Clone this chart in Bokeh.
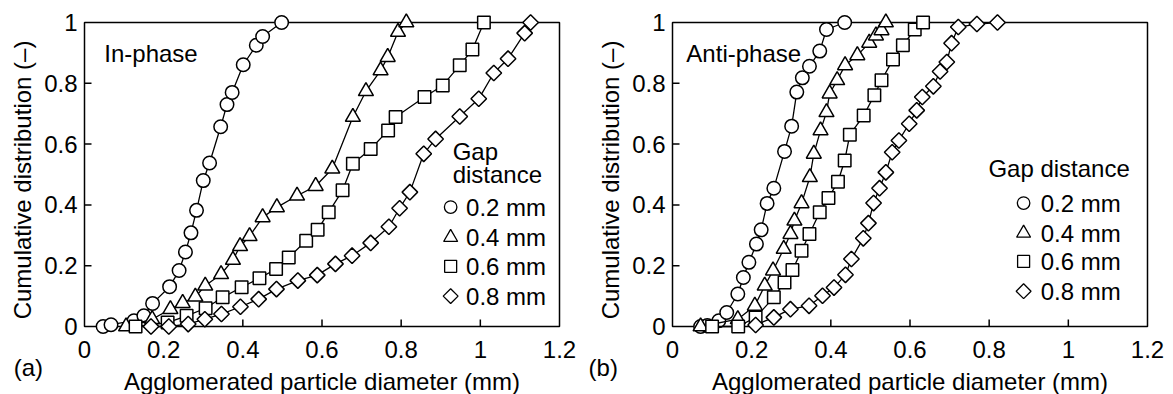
import numpy as np
from bokeh.plotting import figure
from bokeh.layouts import row
from bokeh.models import Range1d, BoxAnnotation, Label, ColumnDataSource
from bokeh.embed import file_html
from bokeh.resources import INLINE
from bokeh.core.properties import value

FONT = "Liberation Sans"

# ---------------- data ----------------
x_ticks = [0, 0.2, 0.4, 0.6, 0.8, 1.0, 1.2]
y_ticks = [0, 0.2, 0.4, 0.6, 0.8, 1.0]
x_tick_labels = ["0", "0.2", "0.4", "0.6", "0.8", "1", "1.2"]
y_tick_labels = ["0", "0.2", "0.4", "0.6", "0.8", "1"]
gap_labels = ["0.2 mm", "0.4 mm", "0.6 mm", "0.8 mm"]

# (a) In-phase
a_02_x = [0.047, 0.067, 0.125, 0.150, 0.172, 0.215, 0.239, 0.255, 0.269, 0.283, 0.300, 0.316, 0.344, 0.360, 0.373, 0.401, 0.434, 0.450, 0.498]
a_02_y = [0.000, 0.006, 0.019, 0.035, 0.076, 0.131, 0.184, 0.245, 0.308, 0.382, 0.480, 0.538, 0.657, 0.730, 0.770, 0.861, 0.925, 0.954, 1.000]
a_04_x = [0.105, 0.171, 0.217, 0.248, 0.280, 0.305, 0.345, 0.375, 0.393, 0.417, 0.450, 0.486, 0.537, 0.584, 0.626, 0.678, 0.711, 0.748, 0.766, 0.792, 0.813]
a_04_y = [0.000, 0.024, 0.057, 0.077, 0.098, 0.134, 0.172, 0.219, 0.264, 0.297, 0.359, 0.392, 0.430, 0.462, 0.519, 0.689, 0.774, 0.842, 0.886, 0.969, 1.000]
a_06_x = [0.129, 0.210, 0.258, 0.306, 0.349, 0.397, 0.442, 0.484, 0.516, 0.560, 0.589, 0.617, 0.652, 0.678, 0.723, 0.767, 0.786, 0.859, 0.905, 0.948, 0.980, 1.009]
a_06_y = [0.000, 0.013, 0.035, 0.060, 0.096, 0.129, 0.159, 0.189, 0.227, 0.282, 0.318, 0.376, 0.448, 0.535, 0.584, 0.645, 0.689, 0.755, 0.793, 0.859, 0.911, 1.000]
a_08_x = [0.168, 0.213, 0.262, 0.304, 0.346, 0.394, 0.440, 0.485, 0.539, 0.588, 0.634, 0.676, 0.723, 0.769, 0.796, 0.822, 0.857, 0.887, 0.948, 0.996, 1.034, 1.070, 1.112, 1.127]
a_08_y = [0.000, 0.000, 0.008, 0.024, 0.041, 0.065, 0.090, 0.123, 0.151, 0.169, 0.206, 0.233, 0.275, 0.328, 0.389, 0.442, 0.568, 0.617, 0.691, 0.749, 0.834, 0.881, 0.965, 1.000]

# (b) Anti-phase
b_02_x = [0.071, 0.088, 0.117, 0.137, 0.165, 0.179, 0.193, 0.212, 0.224, 0.239, 0.256, 0.283, 0.301, 0.314, 0.328, 0.346, 0.372, 0.389, 0.435]
b_02_y = [0.000, 0.003, 0.019, 0.046, 0.107, 0.161, 0.211, 0.271, 0.318, 0.405, 0.455, 0.576, 0.659, 0.771, 0.818, 0.856, 0.906, 0.977, 1.000]
b_04_x = [0.071, 0.165, 0.208, 0.233, 0.254, 0.281, 0.298, 0.308, 0.326, 0.347, 0.357, 0.374, 0.389, 0.397, 0.416, 0.436, 0.467, 0.497, 0.514, 0.528, 0.539]
b_04_y = [0.000, 0.024, 0.068, 0.134, 0.184, 0.255, 0.304, 0.348, 0.405, 0.491, 0.568, 0.645, 0.705, 0.766, 0.810, 0.859, 0.892, 0.933, 0.957, 0.974, 1.000]
b_06_x = [0.100, 0.166, 0.210, 0.256, 0.283, 0.303, 0.326, 0.346, 0.372, 0.394, 0.418, 0.435, 0.448, 0.483, 0.510, 0.528, 0.557, 0.582, 0.612, 0.633]
b_06_y = [0.000, 0.000, 0.030, 0.096, 0.145, 0.186, 0.249, 0.304, 0.376, 0.423, 0.476, 0.546, 0.631, 0.694, 0.761, 0.810, 0.878, 0.925, 0.977, 1.000]
b_08_x = [0.210, 0.256, 0.298, 0.345, 0.379, 0.408, 0.437, 0.452, 0.482, 0.495, 0.508, 0.523, 0.539, 0.555, 0.572, 0.598, 0.617, 0.631, 0.659, 0.676, 0.693, 0.705, 0.722, 0.769, 0.821]
b_08_y = [0.005, 0.030, 0.057, 0.068, 0.101, 0.128, 0.170, 0.222, 0.290, 0.340, 0.406, 0.455, 0.507, 0.573, 0.612, 0.667, 0.711, 0.755, 0.790, 0.839, 0.870, 0.932, 0.985, 0.995, 1.000]

# ---------------- styling ----------------
MARKERS = ["circle", "triangle", "square", "square"]
ANGLES = [0.0, 0.0, 0.0, np.pi / 4]
SIZES = [13.5, 15, 12.5, 11]
LEG_SIZES = [12.5, 14, 12, 10.5]

PX_X = 475 / 1.2   # pixels per x unit
PX_Y = 304.0       # pixels per y unit
TICK = 7
H = 394


def make_panel(series, width, left_px, tag, tag_x, phase, phase_x, legend):
    top_px = 22                       # pixels from canvas top to y = 1
    x_start = -left_px / PX_X
    x_end = x_start + width / PX_X
    y_end = 1 + top_px / PX_Y
    y_start = y_end - H / PX_Y
    p = figure(width=width, height=H,
               x_range=Range1d(x_start, x_end), y_range=Range1d(y_start, y_end),
               x_axis_location=None, y_axis_location=None,
               output_backend="svg", toolbar_location=None,
               min_border=0)
    p.outline_line_color = None
    p.grid.visible = False
    p.background_fill_color = "white"
    p.border_fill_color = "white"

    # plot box
    p.add_layout(BoxAnnotation(left=0, right=1.2, bottom=0, top=1,
                               fill_color=None, fill_alpha=0,
                               line_color="black", line_alpha=1.0, line_width=1.5,
                               level="underlay"))
    # inward ticks
    xt = x_ticks[1:-1]
    yt = y_ticks[1:-1]
    p.segment(x0=xt, y0=[0] * len(xt), x1=xt, y1=[TICK / PX_Y] * len(xt),
              line_color="black", line_width=1.5)
    p.segment(x0=[0] * len(yt), y0=yt, x1=[TICK / PX_X] * len(yt), y1=yt,
              line_color="black", line_width=1.5)

    # tick labels
    p.text(x=x_ticks, y=[-23 / PX_Y] * len(x_ticks), text=x_tick_labels,
           text_font=value(FONT), text_font_size="24px", text_color="black",
           text_align="center", text_baseline="middle")
    p.text(x=[-7 / PX_X] * len(y_ticks), y=y_ticks, text=y_tick_labels,
           text_font=value(FONT), text_font_size="24px", text_color="black",
           text_align="right", text_baseline="middle")

    for (xs, ys), mk, ang, sz in zip(series, MARKERS, ANGLES, SIZES):
        p.line(xs, ys, line_color="black", line_width=1.3)
        p.scatter(xs, ys, marker=mk, angle=ang, size=sz,
                  fill_color="white", line_color="black", line_width=1.5)

    # legend
    lx_m, ly_m, lx_t, titles = legend
    src = ColumnDataSource(dict(x=[lx_m] * 4, y=ly_m, marker=MARKERS,
                                angle=ANGLES, size=LEG_SIZES))
    p.scatter(x="x", y="y", marker="marker", angle="angle", size="size",
              source=src, fill_color="white", line_color="black", line_width=1.3)
    p.text(x=[lx_t] * 4, y=ly_m, text=gap_labels, text_font=value(FONT),
           text_font_size="24px", text_color="black",
           text_align="left", text_baseline="middle")

    def lab(x, y, t, align="left", angle=0.0):
        p.add_layout(Label(x=x, y=y, text=t, angle=angle, text_font=FONT,
                           text_font_size="24px", text_color="black",
                           text_align=align, text_baseline="middle"))

    for tx, ty, tt in titles:
        lab(tx, ty, tt)
    lab(phase_x, 0.897, phase)
    lab(0.6, -0.181, "Agglomerated particle diameter (mm)", align="center")
    lab(-0.1554, 0.482, "Cumulative distribution (\u2013)", align="center", angle=np.pi / 2)
    lab(tag_x, -0.135, tag)
    return p


series_a = [(a_02_x, a_02_y), (a_04_x, a_04_y), (a_06_x, a_06_y), (a_08_x, a_08_y)]
series_b = [(b_02_x, b_02_y), (b_04_x, b_04_y), (b_06_x, b_06_y), (b_08_x, b_08_y)]

legend_a = (0.925, [0.393, 0.293, 0.198, 0.100], 0.964,
            [(0.93, 0.576, "Gap"), (0.93, 0.500, "distance")])
legend_b = (0.887, [0.406, 0.307, 0.214, 0.116], 0.930,
            [(0.798, 0.520, "Gap distance")])

p1 = make_panel(series_a, 586, 84, "(a)", -0.179, "In-phase", 0.05, legend_a)
p2 = make_panel(series_b, 586, 86, "(b)", -0.212, "Anti-phase", 0.035, legend_b)

layout = row(p1, p2)
open("out.html", "w").write(file_html(layout, INLINE))
